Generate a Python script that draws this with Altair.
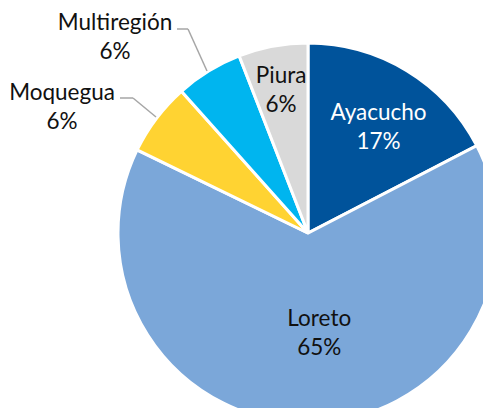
import math
import altair as alt
import pandas as pd

regions = ["Ayacucho", "Loreto", "Moquegua", "Multiregión", "Piura"]
shares = [17.4, 64.8, 6.2, 5.7, 5.9]
pct_labels = ["17%", "65%", "6%", "6%", "6%"]
colors = ["#00539B", "#7BA7D9", "#FFD332", "#00B5EF", "#D9D9D9"]

df = pd.DataFrame({"region": regions, "share": shares, "pct": pct_labels,
                   "order": list(range(len(regions)))})
df["label"] = df["region"] + "\n" + df["pct"]

CX, CY, R = 300, 225, 190
FONT = "Lato"
FS = 22.5
LH = 29
LIFT = -14  # centre the two-line block on its anchor

base = alt.Chart(df).transform_window(
    cum="sum(share)", sort=[alt.SortField("order")], frame=[None, 0]
).transform_calculate(
    start="datum.cum - datum.share", mid="datum.cum - datum.share / 2"
)
theta_scale = alt.Scale(domain=[0, 100], range=[0, 2 * math.pi])

pie = base.mark_arc(stroke="white", strokeWidth=3).encode(
    x=alt.value(CX), y=alt.value(CY),
    theta=alt.Theta("start:Q", scale=theta_scale),
    theta2="cum:Q",
    radius=alt.value(R),
    color=alt.Color("region:N", scale=alt.Scale(domain=regions, range=colors), legend=None),
)


def inside(name, r, color, dx=0, dy=0):
    return base.transform_filter(alt.datum.region == name).mark_text(
        radius=r, font=FONT, fontSize=FS, lineHeight=LH, lineBreak="\n",
        color=color, align="center", baseline="middle", dx=dx, dy=dy + LIFT,
    ).encode(
        x=alt.value(CX), y=alt.value(CY),
        theta=alt.Theta("mid:Q", scale=theta_scale),
        text="label:N",
    )


def outside(name, x, y):
    return base.transform_filter(alt.datum.region == name).mark_text(
        font=FONT, fontSize=FS, lineHeight=LH, lineBreak="\n",
        color="#111111", align="center", baseline="middle", dy=LIFT,
    ).encode(x=alt.value(x), y=alt.value(y), text="label:N")


def leader(name, x1, y1, x2, y2):
    return base.transform_filter(alt.datum.region == name).mark_rule(
        color="#A6A6A6", strokeWidth=1.5
    ).encode(x=alt.value(x1), y=alt.value(y1), x2=alt.value(x2), y2=alt.value(y2))


chart = alt.layer(
    pie,
    inside("Ayacucho", 126, "white", dx=5, dy=2),
    inside("Loreto", 100, "#111111", dx=10),
    inside("Piura", 146, "#111111"),
    outside("Multiregión", 107, 29),
    outside("Moquegua", 54, 99),
    leader("Multiregión", 169, 21, 180, 21),
    leader("Multiregión", 180, 21, 199, 63),
    leader("Moquegua", 112, 90, 125, 90),
    leader("Moquegua", 125, 90, 148, 109),
).properties(
    width=475, height=400, padding=0, autosize=alt.AutoSizeParams(type="none")
).configure_view(stroke=None)

chart.save("out.html", embed_options={"renderer": "svg", "actions": False})
